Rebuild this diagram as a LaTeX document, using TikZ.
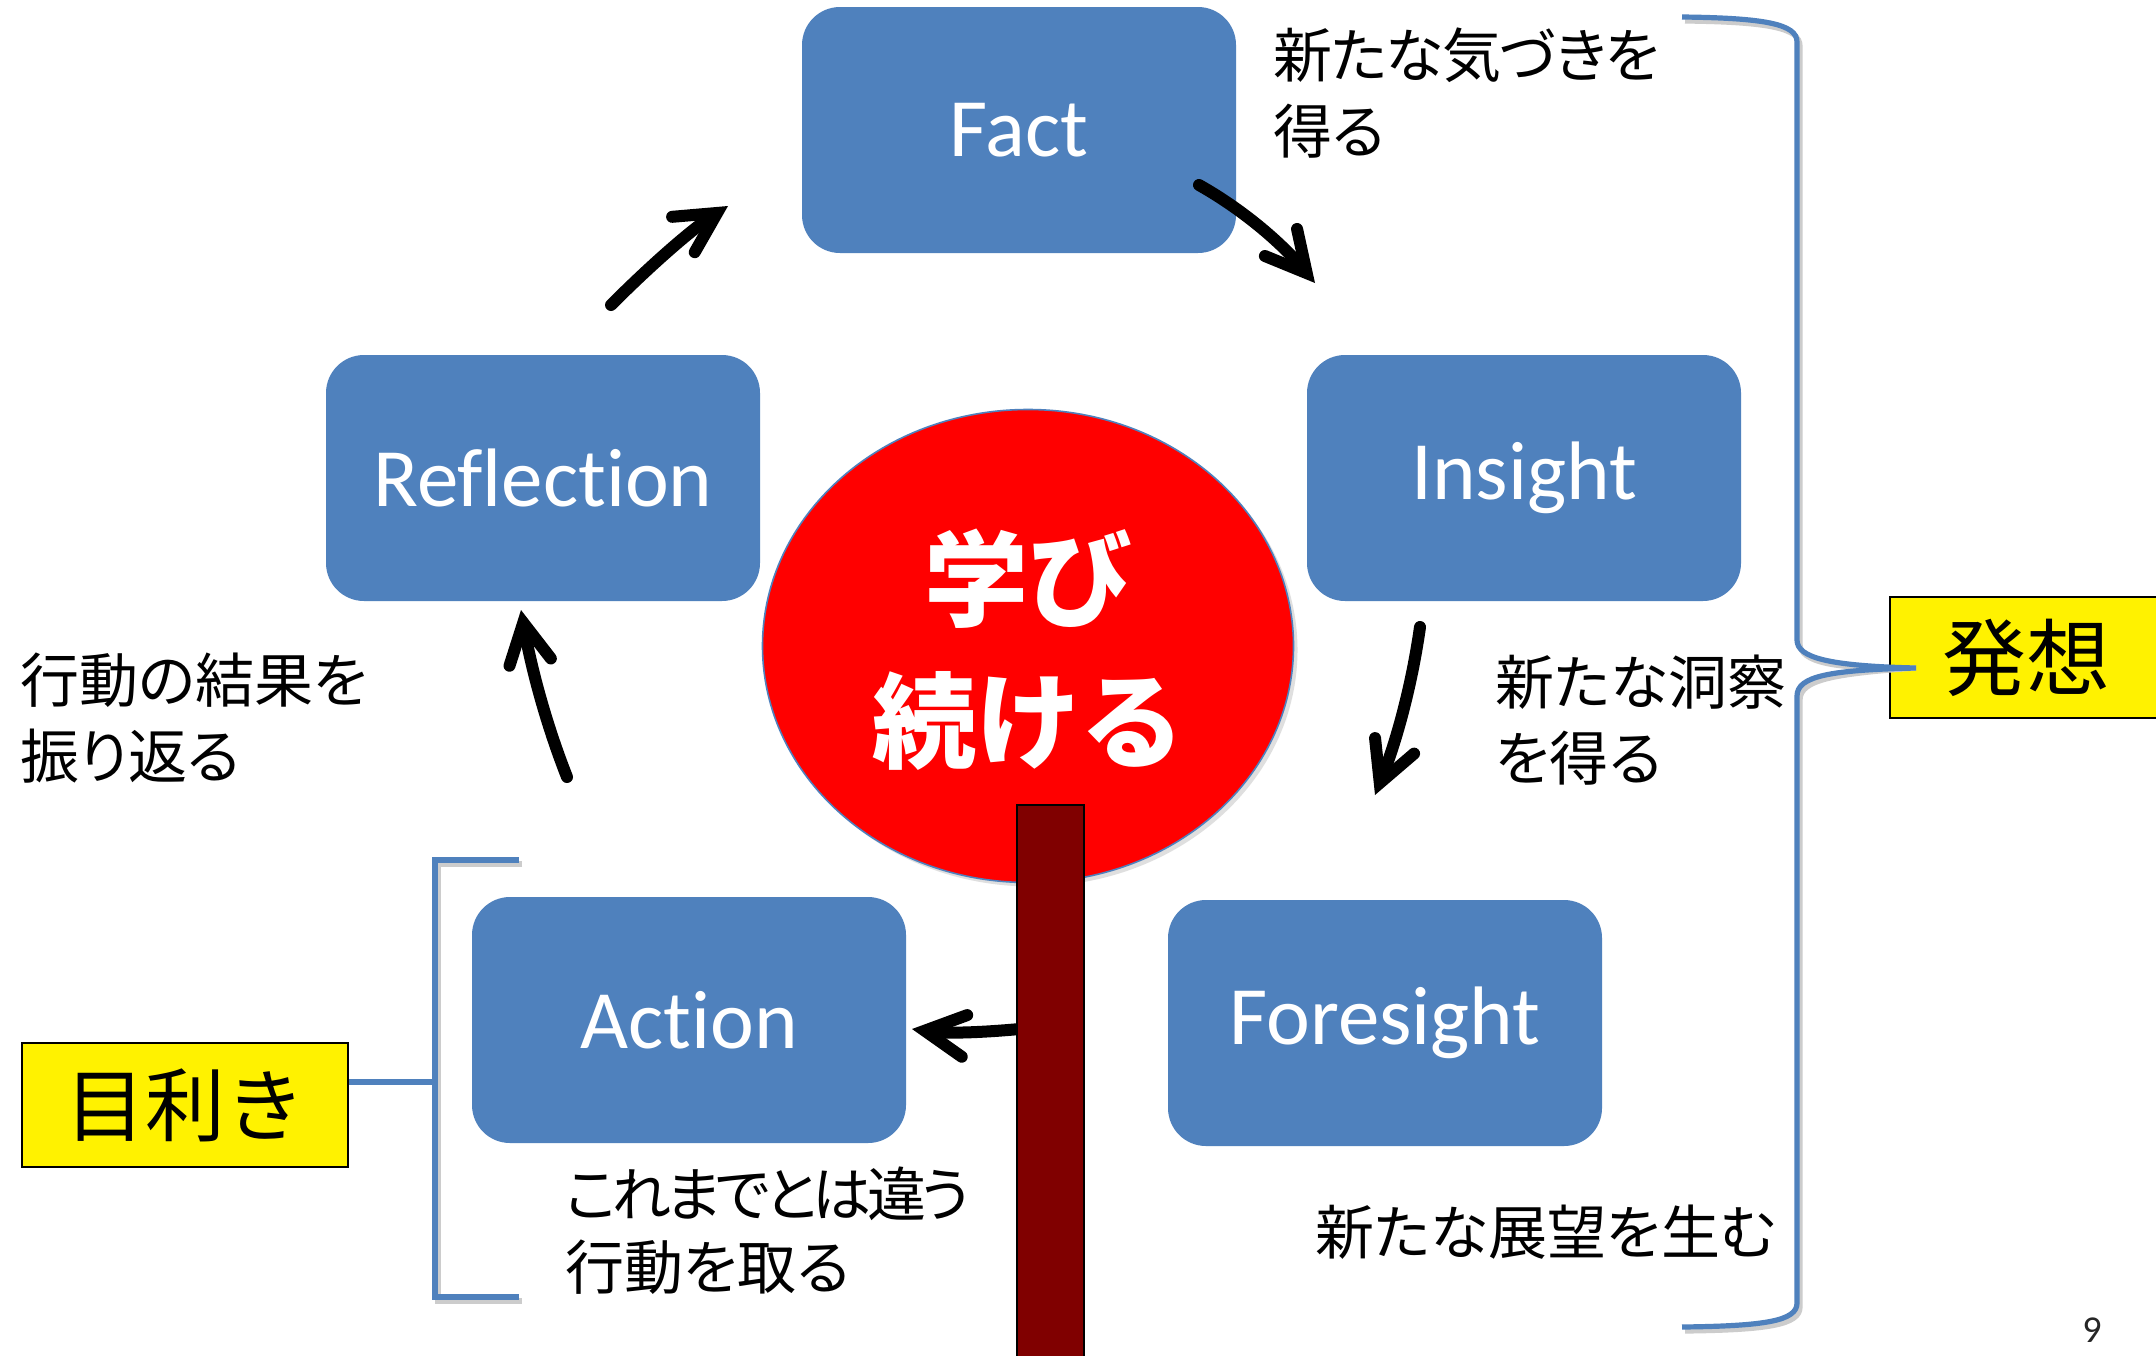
\documentclass[tikz,border=0pt]{standalone}
\usepackage{fontspec}
\usetikzlibrary{arrows.meta,shapes.geometric,shadows}
\newfontfamily\carl{Carlito}[Ligatures={NoCommon}]
\newfontfamily\jp{Noto Sans CJK JP}
\newfontfamily\jpp{Noto Sans CJK JP}[RawFeature=+palt]
\definecolor{boxblue}{HTML}{4F81BD}
\definecolor{stickred}{HTML}{800000}
\begin{document}
\begin{tikzpicture}[x=0.5pt,y=-0.5pt,
  boxst/.style={rectangle, rounded corners=19pt, fill=boxblue, minimum width=217pt, minimum height=123pt,
    inner sep=0pt, text=white, font=\carl\fontsize{41.5}{48}\selectfont},
  flow/.style={line width=6pt, line cap=round,
    -{Straight Barb[length=20pt,width=21pt,line cap=round,line join=miter]}},
  lbl/.style={font=\jpp\fontsize{29.5}{38}\selectfont, align=left, inner sep=0pt, anchor=west},
  tagbox/.style={draw=black, fill=yellow, line width=1pt, inner sep=0pt},
  bluel/.style={draw=boxblue, line width=2.6pt},
  shadowl/.style={draw=black!20, line width=2.6pt}
]
\useasboundingbox (0,0) rectangle (2156,1355);
\fill[white] (0,0) rectangle (2156,1355);

% boxes
\node[boxst] (fact) at (1019,130) {Fact};
\node[boxst] (refl) at (543,478) {Reflection};
\node[boxst] (ins) at (1524,478) {Insight};
\node[boxst] (act) at (689,1020) {Action};
\node[boxst] (fore) at (1385,1023) {Foresight};

% central ellipse
\node[ellipse, fill=red, draw=boxblue, line width=0.8pt, minimum width=265.5pt, minimum height=236.5pt,
  inner sep=0pt, drop shadow={opacity=0.25, shadow xshift=2pt, shadow yshift=-2pt}] (learn) at (1028,646) {};
\node[font=\jp\bfseries\fontsize{52}{71}\selectfont, text=white, align=center, inner sep=0pt] (learntxt) at (1028,650) {学び\\続ける};

% arrows
\coordinate (a1s) at (611,305); \coordinate (a1e) at (728,206);
\coordinate (a2s) at (1199,185); \coordinate (a2e) at (1315,283);
\coordinate (a3s) at (1420,627); \coordinate (a3e) at (1375,795);
\coordinate (a4s) at (1030,1028); \coordinate (a4e) at (912,1029);
\coordinate (a5s) at (567,777); \coordinate (a5e) at (521,610);
\draw[flow] (a1s) .. controls (655.7,260.3) and (694.7,227.3) .. (a1e);
\draw[flow] (a2s) .. controls (1241.7,209) and (1280.3,241.7) .. (a2e);
\draw[flow] (a3s) .. controls (1412,683.7) and (1397,739.7) .. (a3e);
\draw[flow] (a4s) .. controls (990,1032) and (950,1034) .. (a4e);
\draw[flow] (a5s) .. controls (547,726.3) and (531.7,670.7) .. (a5e);

% stick
\node[draw=black, fill=stickred, line width=0.8pt, minimum width=33.5pt, minimum height=280pt, inner sep=0pt] (stick) at (1050.5,1085) {};

% labels
\node[lbl] (l1) at (1273,93) {{\addfontfeature{LetterSpace=-2.5}新たな気づきを}\\得る};
\node[lbl] (l2) at (1495,720) {新たな洞察\\を得る};
\node[lbl] (l3) at (1315,1232) {新たな展望を生む};
\node[lbl] (l4) at (20,718) {行動の結果を\\振り返る};
\node[lbl, font=\jpp\fontsize{29.5}{36.5}\selectfont] (l5) at (565,1231) {{\addfontfeature{LetterSpace=-8}これまでとは違う}\\行動を取る};

% tag boxes
\node[tagbox, minimum width=163pt, minimum height=62pt, font=\jp\fontsize{40}{46}\selectfont] (mekiki) at (185,1105) {目利き};
\node[tagbox, minimum width=136pt, minimum height=60.5pt, font=\jp\fontsize{42}{48}\selectfont] (hasso) at (2026,657.5) {発想};

% left bracket
\coordinate (bk) at (435,1082);
\path[shadowl, shift={(3,4)}] (519,860) -- (435,860) -- (435,1297) -- (519,1297);
\path[bluel] (519,860) -- (435,860) -- (435,1297) -- (519,1297);
\path[bluel] (bk) -- (mekiki.east |- bk);

% right brace
\coordinate (bt) at (1916,668);
\path[shadowl, shift={(3,4)}] (1682,17) .. controls (1765,18) and (1797,24) .. (1797,42) -- (1797,640)
  .. controls (1797,658) and (1830,666) .. (bt) .. controls (1830,670) and (1797,676) .. (1797,696)
  -- (1797,1303) .. controls (1797,1321) and (1765,1326) .. (1682,1327);
\path[bluel] (1682,17) .. controls (1765,18) and (1797,24) .. (1797,42) -- (1797,640)
  .. controls (1797,658) and (1830,666) .. (bt) .. controls (1830,670) and (1797,676) .. (1797,696)
  -- (1797,1303) .. controls (1797,1321) and (1765,1326) .. (1682,1327);

% page number
\node[font=\carl\fontsize{19}{22}\selectfont, text=black!85, inner sep=0pt] (pg) at (2092,1330) {9};
\end{tikzpicture}
\end{document}
